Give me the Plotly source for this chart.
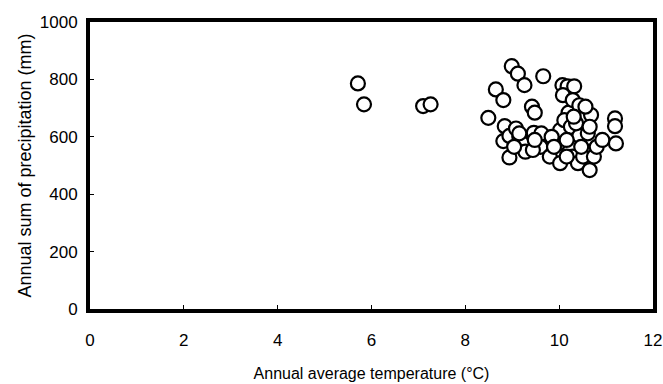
import plotly.graph_objects as go

temperature = [5.71, 5.84, 7.10, 7.26, 8.49, 8.65, 8.81, 8.99, 9.12, 9.26, 9.66,
               8.84, 8.81, 8.94, 8.94, 9.08, 9.15, 9.21, 9.28, 9.42, 9.48, 9.46,
               9.62, 9.60, 9.44, 9.80, 9.98, 10.02, 10.02, 10.07, 10.18, 10.32,
               10.08, 10.20, 10.29, 10.43, 10.68, 10.56, 10.11, 10.25, 10.29,
               10.43, 10.40, 10.51, 10.65, 10.61, 10.74, 10.80, 10.92, 11.19,
               11.19, 11.21, 10.16, 10.36, 10.47, 9.84, 9.48, 9.04, 9.15, 10.65,
               10.16, 9.89, 10.31]
precipitation = [786, 713, 707, 713, 666, 765, 728, 846, 820, 780, 811,
                 637, 585, 528, 603, 629, 600, 577, 548, 705, 684, 614,
                 612, 565, 554, 531, 577, 508, 623, 780, 776, 776,
                 745, 684, 728, 710, 676, 705, 658, 635, 531,
                 603, 508, 531, 484, 612, 531, 565, 589, 664,
                 637, 577, 589, 647, 565, 600, 589, 565, 612, 635,
                 531, 565, 670]

x_ticks = [0, 2, 4, 6, 8, 10, 12]
y_ticks = [0, 200, 400, 600, 800, 1000]

fig = go.Figure(go.Scatter(
    x=temperature, y=precipitation, mode="markers",
    marker=dict(size=14, color="white", line=dict(color="black", width=2.2)),
    showlegend=False,
))

font = "Liberation Sans, Arial, sans-serif"
fig.update_layout(
    width=663, height=384,
    margin=dict(l=90, r=10, t=22, b=75, autoexpand=False),
    paper_bgcolor="white", plot_bgcolor="white",
    font=dict(family=font, color="black", size=17),
)
fig.update_xaxes(
    range=[0, 12], tickvals=x_ticks, ticks="inside", ticklen=4, tickwidth=1,
    tickcolor="black", showgrid=False, zeroline=False, automargin=False,
    showline=True, linecolor="black", linewidth=4, mirror=True,
    ticklabelstandoff=13,
    title=dict(text="Annual average temperature (°C)", font=dict(size=16), standoff=19),
)
fig.update_yaxes(
    range=[0, 1000], tickvals=y_ticks, ticks="inside", ticklen=4, tickwidth=1,
    tickcolor="black", showgrid=False, zeroline=False, automargin=False,
    showline=True, linecolor="black", linewidth=4, mirror=True,
    ticklabelstandoff=5,
    title=dict(text="Annual sum of precipitation (mm)", font=dict(size=18), standoff=4),
)

fig.write_html("out.html", config={"displayModeBar": False},
               post_script="document.body.style.margin='0';")
